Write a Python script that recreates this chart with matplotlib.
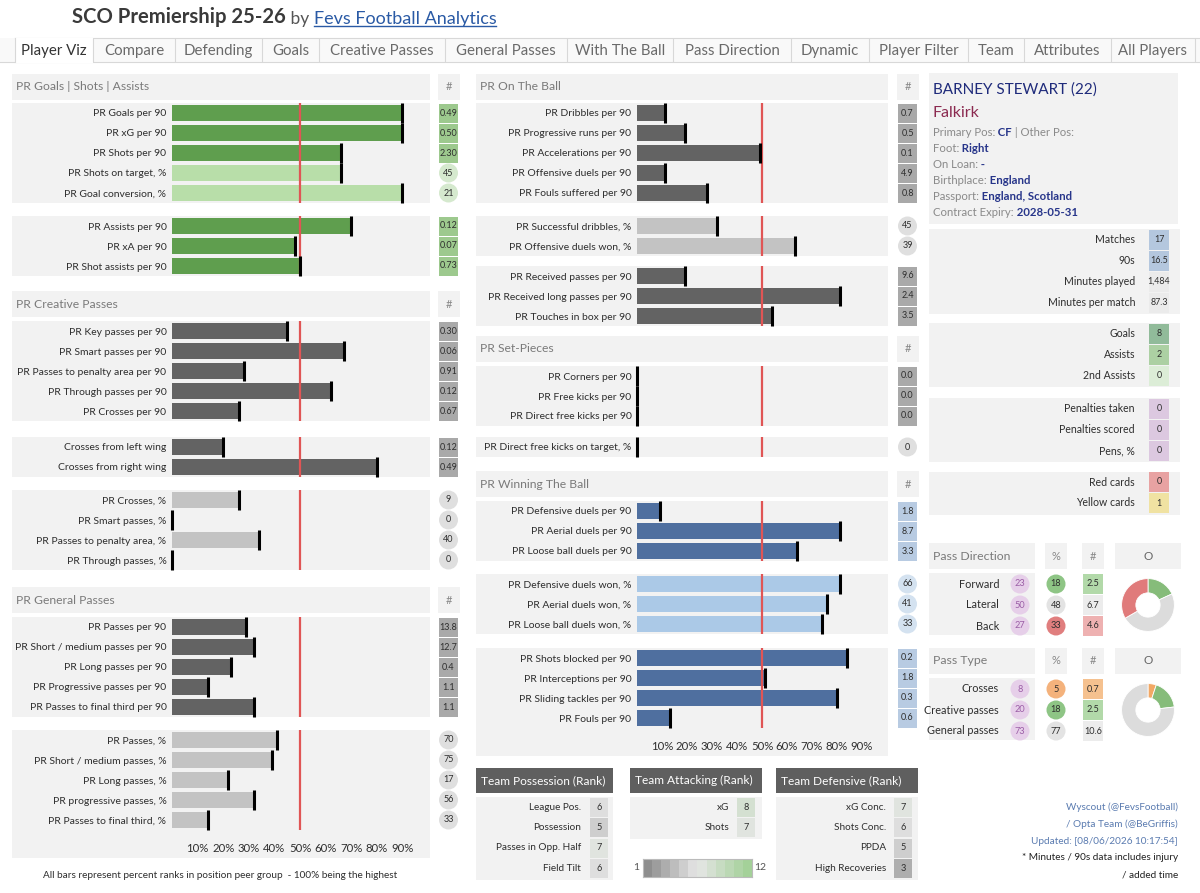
import numpy as np
import matplotlib
matplotlib.use("Agg")
import matplotlib.pyplot as plt
from matplotlib.patches import Rectangle, Circle
from matplotlib.colors import LinearSegmentedColormap

plt.rcParams['font.family'] = ['Lato', 'DejaVu Sans']

# ---------------- data ----------------
tab_names = ["Player Viz", "Compare", "Defending", "Goals", "Creative Passes", "General Passes",
             "With The Ball", "Pass Direction", "Dynamic", "Player Filter", "Team", "Attributes",
             "All Players"]

goals_labels = ["PR Goals per 90", "PR xG per 90", "PR Shots per 90", "PR Shots on target, %",
                "PR Goal conversion, %"]
goals_pr = [90, 90, 66, 66, 90]
goals_val = ["0.49", "0.50", "2.30", "45", "21"]

assist_labels = ["PR Assists per 90", "PR xA per 90", "PR Shot assists per 90"]
assist_pr = [70, 48, 50]
assist_val = ["0.12", "0.07", "0.73"]

creative_labels = ["PR Key passes per 90", "PR Smart passes per 90", "PR Passes to penalty area per 90",
                   "PR Through passes per 90", "PR Crosses per 90"]
creative_pr = [45, 67, 28, 62, 26]
creative_val = ["0.30", "0.06", "0.91", "0.12", "0.67"]

wing_labels = ["Crosses from left wing", "Crosses from right wing"]
wing_pr = [20, 80]
wing_val = ["0.12", "0.49"]

creative_pct_labels = ["PR Crosses, %", "PR Smart passes, %", "PR Passes to penalty area, %",
                       "PR Through passes, %"]
creative_pct_pr = [26, 0, 34, 0]
creative_pct_val = ["9", "0", "40", "0"]

general_labels = ["PR Passes per 90", "PR Short / medium passes per 90", "PR Long passes per 90",
                  "PR Progressive passes per 90", "PR Passes to final third per 90"]
general_pr = [29, 32, 23, 14, 32]
general_val = ["13.8", "12.7", "0.4", "1.1", "1.1"]

general_pct_labels = ["PR Passes, %", "PR Short / medium passes, %", "PR Long passes, %",
                      "PR progressive passes, %", "PR Passes to final third, %"]
general_pct_pr = [41, 39, 22, 32, 14]
general_pct_val = ["70", "75", "17", "56", "33"]

ball_labels = ["PR Dribbles per 90", "PR Progressive runs per 90", "PR Accelerations per 90",
               "PR Offensive duels per 90", "PR Fouls suffered per 90"]
ball_pr = [11, 19, 49, 11, 28]
ball_val = ["0.7", "0.5", "0.1", "4.9", "0.8"]

dribble_labels = ["PR Successful dribbles, %", "PR Offensive duels won, %"]
dribble_pr = [32, 63]
dribble_val = ["45", "39"]

receive_labels = ["PR Received passes per 90", "PR Received long passes per 90", "PR Touches in box per 90"]
receive_pr = [19, 81, 54]
receive_val = ["9.6", "2.4", "3.5"]

setpiece_labels = ["PR Corners per 90", "PR Free kicks per 90", "PR Direct free kicks per 90"]
setpiece_pr = [0, 0, 0]
setpiece_val = ["0.0", "0.0", "0.0"]

fk_labels = ["PR Direct free kicks on target, %"]
fk_pr = [0]
fk_val = ["0"]

duel_labels = ["PR Defensive duels per 90", "PR Aerial duels per 90", "PR Loose ball duels per 90"]
duel_pr = [9, 81, 64]
duel_val = ["1.8", "8.7", "3.3"]

duel_pct_labels = ["PR Defensive duels won, %", "PR Aerial duels won, %", "PR Loose ball duels won, %"]
duel_pct_pr = [81, 76, 74]
duel_pct_val = ["66", "41", "33"]

defend_labels = ["PR Shots blocked per 90", "PR Interceptions per 90", "PR Sliding tackles per 90",
                 "PR Fouls per 90"]
defend_pr = [84, 51, 80, 13]
defend_val = ["0.2", "1.8", "0.3", "0.6"]

player_name = "BARNEY STEWART (22)"
player_club = "Falkirk"
info_labels = ["Primary Pos:", "Foot:", "On Loan:", "Birthplace:", "Passport:", "Contract Expiry:"]
info_values = ["CF", "Right", "-", "England", "England, Scotland", "2028-05-31"]
info_extra = [" | Other Pos:", "", "", "", "", ""]

usage_labels = ["Matches", "90s", "Minutes played", "Minutes per match"]
usage_values = ["17", "16.5", "1,484", "87.3"]
output_labels = ["Goals", "Assists", "2nd Assists"]
output_values = ["8", "2", "0"]
pen_labels = ["Penalties taken", "Penalties scored", "Pens, %"]
pen_values = ["0", "0", "0"]
card_labels = ["Red cards", "Yellow cards"]
card_values = ["0", "1"]

dir_labels = ["Forward", "Lateral", "Back"]
dir_share = [23, 50, 27]
dir_pct = [18, 48, 33]
dir_count = [2.5, 6.7, 4.6]

type_labels = ["Crosses", "Creative passes", "General passes"]
type_share = [8, 20, 73]
type_pct = [5, 18, 77]
type_count = [0.7, 2.5, 10.6]

poss_labels = ["League Pos.", "Possession", "Passes in Opp. Half", "Field Tilt"]
poss_ranks = [6, 5, 7, 6]
att_labels = ["xG", "Shots"]
att_ranks = [8, 7]
def_labels = ["xG Conc.", "Shots Conc.", "PPDA", "High Recoveries"]
def_ranks = [7, 6, 5, 3]

credits = ["Wyscout (@FevsFootball)", "/ Opta Team (@BeGriffis)", "Updated: [08/06/2026 10:17:54]"]
notes = ["* Minutes / 90s data includes injury", "/ added time"]

# ---------------- styles ----------------
PANEL = '#f2f2f2'
RED = '#e05555'
TXT = '#2e2e2e'
GREEN = dict(bar='#5f9e4e', light='#b8dea9', box='#9dc98e', circ='#d5e9ce')
GRAY = dict(bar='#636363', light='#c3c3c3', box='#a9a9a9', circ='#dfdfdf')
BLUE = dict(bar='#4f6f9f', light='#abc9e7', box='#b8cbe2', circ='#d4e2f0')
LEFT = dict(x0=12, x1=430, bx0=172, bx1=428, vx=448.5)
MID = dict(x0=476, x1=888, bx0=637, bx1=887, vx=907.5)

W, H = 1200, 893
fig = plt.figure(figsize=(12, 8.93), dpi=100)
bg = fig.add_axes([0, 0, 1, 1])
bg.set_xlim(0, W)
bg.set_ylim(H, 0)
bg.axis('off')


def px_axes(x0, y0, x1, y1):
    return fig.add_axes([x0 / W, 1 - y1 / H, (x1 - x0) / W, (y1 - y0) / H])


def rect(x, y, w, h, color, **kw):
    bg.add_patch(Rectangle((x, y), w, h, facecolor=color, edgecolor='none', **kw))


def section(col, top, title):
    rect(col['x0'], top, col['x1'] - col['x0'], 26, PANEL)
    rect(col['vx'] - 11, top, 22, 26, PANEL)
    bg.text(col['x0'] + 4, top + 13, title, fontsize=8.7, color='#7a7a7a', va='center')
    bg.text(col['vx'], top + 13, '#', fontsize=8, color='#888888', va='center', ha='center')


def bar_group(col, top, labels, pr, vals, theme, ticks=False):
    n = len(labels)
    y1 = top + 20 * n
    rect(col['x0'], top, col['x1'] - col['x0'], y1 - top + (28 if ticks else 0), PANEL)
    ax = px_axes(col['bx0'], top, col['bx1'], y1)
    ax.set_facecolor('none')
    idx = np.arange(n)
    is_pct = ['%' in lab for lab in labels]
    colors = [theme['light'] if p else theme['bar'] for p in is_pct]
    ax.barh(idx, pr, height=0.78, color=colors, zorder=1)
    ax.axvline(50, color=RED, lw=1.6, zorder=2)
    ax.vlines(pr, idx - 0.5, idx + 0.5, color='black', lw=2.2, zorder=3, clip_on=False)
    ax.set_xlim(0, 100)
    ax.set_ylim(n - 0.5, -0.5)
    ax.set_yticks(idx, labels)
    ax.tick_params(axis='y', length=0, pad=4, labelsize=7.5, labelcolor=TXT)
    if ticks:
        tv = np.arange(10, 100, 10)
        ax.set_xticks(tv, [f"{t}%" for t in tv])
        ax.tick_params(axis='x', length=0, pad=9, labelsize=8.2, labelcolor=TXT)
    else:
        ax.set_xticks([])
    for s in ax.spines.values():
        s.set_visible(False)
    for i, (v, p) in enumerate(zip(vals, is_pct)):
        cy = top + 10 + 20 * i
        if p:
            bg.add_patch(Circle((col['vx'], cy), 9.5, facecolor=theme['circ'], edgecolor='none'))
        else:
            rect(col['vx'] - 9.5, cy - 9.5, 19, 19, theme['box'])
        bg.text(col['vx'], cy, v, fontsize=6.5, color=TXT, ha='center', va='center')


# ---------------- header ----------------
t1 = bg.text(72, 17, "SCO Premiership 25-26", fontsize=14.6, fontweight='bold', color='#3a3a3a',
             va='center')
t2 = bg.annotate(" by ", xy=(1, 0), xycoords=t1, va='bottom', fontsize=12.5, color='#555555')
t3 = bg.annotate("Fevs Football Analytics", xy=(1, 0), xycoords=t2, va='bottom', fontsize=13,
                 color='#2a5aa5')

# tabs
rect(0, 38, W, 24, '#f9f9f9')
bg.plot([15, W], [38, 38], color='#d8d8d8', lw=0.8)
bg.plot([0, W], [62, 62], color='#d8d8d8', lw=0.8)
tab_edges = [15, 93, 175, 262, 319, 445, 567, 673, 791, 869, 968, 1024, 1111, 1195]
rect(15, 38, 78, 25, 'white', zorder=2)
for i, name in enumerate(tab_names):
    a, b = tab_edges[i], tab_edges[i + 1]
    bg.plot([b, b], [39, 61], color='#d8d8d8', lw=0.8, zorder=3)
    bg.text((a + b) / 2, 51, name, fontsize=10.8, ha='center', va='center', zorder=3,
            color='#333333' if i == 0 else '#6a6a6a')
bg.plot([15, 15], [38, 62], color='#d8d8d8', lw=0.8, zorder=3)

# ---------------- left column ----------------
section(LEFT, 74, "PR Goals | Shots | Assists")
bar_group(LEFT, 103, goals_labels, goals_pr, goals_val, GREEN)
bar_group(LEFT, 216, assist_labels, assist_pr, assist_val, GREEN)
section(LEFT, 291, "PR Creative Passes")
bar_group(LEFT, 321, creative_labels, creative_pr, creative_val, GRAY)
bar_group(LEFT, 437, wing_labels, wing_pr, wing_val, GRAY)
bar_group(LEFT, 490, creative_pct_labels, creative_pct_pr, creative_pct_val, GRAY)
section(LEFT, 587, "PR General Passes")
bar_group(LEFT, 617, general_labels, general_pr, general_val, GRAY)
bar_group(LEFT, 730, general_pct_labels, general_pct_pr, general_pct_val, GRAY, ticks=True)
bg.text(220, 876, "All bars represent percent ranks in position peer group  - 100% being the highest",
        fontsize=7.2, color=TXT, ha='center', va='center')

# ---------------- middle column ----------------
section(MID, 74, "PR On The Ball")
bar_group(MID, 103, ball_labels, ball_pr, ball_val, GRAY)
bar_group(MID, 216, dribble_labels, dribble_pr, dribble_val, GRAY)
bar_group(MID, 266, receive_labels, receive_pr, receive_val, GRAY)
section(MID, 336, "PR Set-Pieces")
bar_group(MID, 366, setpiece_labels, setpiece_pr, setpiece_val, GRAY)
bar_group(MID, 437, fk_labels, fk_pr, fk_val, GRAY)
section(MID, 471, "PR Winning The Ball")
bar_group(MID, 501, duel_labels, duel_pr, duel_val, BLUE)
bar_group(MID, 574, duel_pct_labels, duel_pct_pr, duel_pct_val, BLUE)
bar_group(MID, 648, defend_labels, defend_pr, defend_val, BLUE, ticks=True)

# team rank boxes
rank_cmap = LinearSegmentedColormap.from_list('rank', ['#8e8e8e', '#e6e6e6', '#a4d199'])


def team_box(x0, x1, lab_x, box_x, title, labels, ranks):
    rect(x0, 768, x1 - x0, 25, '#5f5f5f')
    bg.text(x0 + 5, 780.5, title, fontsize=8.6, color='white', va='center')
    rect(x0, 797, x1 - x0, 20.5 * len(labels) + 1, PANEL)
    for i, (lab, r) in enumerate(zip(labels, ranks)):
        cy = 807 + 20.5 * i
        bg.text(lab_x, cy, lab, fontsize=7.2, color=TXT, ha='right', va='center')
        rect(box_x, cy - 9.5, 18, 19, rank_cmap((r - 1) / 11))
        bg.text(box_x + 9, cy, str(r), fontsize=6.6, color=TXT, ha='center', va='center')


team_box(476, 613, 581, 590, "Team Possession (Rank)", poss_labels, poss_ranks)
team_box(630, 762, 729, 737, "Team Attacking (Rank)", att_labels, att_ranks)
team_box(776, 918, 886, 894, "Team Defensive (Rank)", def_labels, def_ranks)
lax = px_axes(643, 859, 752, 877)
lax.imshow(np.arange(1, 13).reshape(1, -1), cmap=rank_cmap, vmin=1, vmax=12, aspect='auto')
lax.set_xticks([])
lax.set_yticks([])
for s in lax.spines.values():
    s.set_color('#bbbbbb')
bg.text(636, 868, "1", fontsize=7.5, color='#555555', ha='center', va='center')
bg.text(760, 868, "12", fontsize=7.5, color='#555555', ha='center', va='center')

# ---------------- right column ----------------
rect(929, 73, 249, 151, PANEL)
bg.text(933, 90, player_name, fontsize=11, color='#1f2b7b', va='center')
bg.text(933, 113, player_club, fontsize=11.5, color='#8b2a50', va='center')
for i, (lab, val, extra) in enumerate(zip(info_labels, info_values, info_extra)):
    a = bg.text(933, 132 + 16 * i, lab, fontsize=8.2, color='#8a8a8a', va='center')
    b = bg.annotate(" " + val, xy=(1, 0), xycoords=a, va='bottom', fontsize=8.2, color='#27358a',
                    fontweight='bold')
    if extra:
        bg.annotate(extra, xy=(1, 0), xycoords=b, va='bottom', fontsize=8.2, color='#8a8a8a')


def stat_block(top, labels, values, colors):
    rect(929, top, 251, 21 * len(labels) + 1, PANEL)
    for i, (lab, v, c) in enumerate(zip(labels, values, colors)):
        cy = top + 10.5 + 21 * i
        bg.text(1135, cy, lab, fontsize=7.6, color=TXT, ha='right', va='center')
        rect(1149, cy - 10, 20, 20, c)
        bg.text(1159, cy, v, fontsize=6.4, color=TXT, ha='center', va='center')


stat_block(229, usage_labels, usage_values, ['#b4c7de', '#b4c7de', '#ebebeb', '#ebebeb'])
stat_block(323, output_labels, output_values, ['#91bb9a', '#acd0a3', '#dcedd7'])
stat_block(398, pen_labels, pen_values, ['#dcc8e0'] * 3)
stat_block(471.5, card_labels, card_values, ['#e8a2a2', '#f0e2a2'])


def pass_block(top, title, labels, share, pct, count, pct_colors, box_colors, pie_colors):
    rect(929, top, 106, 26, PANEL)
    rect(1045, top, 22, 26, PANEL)
    rect(1082, top, 22, 26, PANEL)
    rect(1115, top, 66, 26, PANEL)
    bg.text(933, top + 13, title, fontsize=8.8, color='#7a7a7a', va='center')
    bg.text(1056, top + 13, '%', fontsize=8, color='#888888', ha='center', va='center')
    bg.text(1093, top + 13, '#', fontsize=8, color='#888888', ha='center', va='center')
    bg.text(1148, top + 13, 'O', fontsize=8.5, color='#666666', ha='center', va='center')
    rt = top + 30
    rect(929, rt, 106, 62, PANEL)
    for i in range(len(labels)):
        cy = rt + 11 + 21 * i
        bg.text(999, cy, labels[i], fontsize=7.8, color=TXT, ha='right', va='center')
        bg.add_patch(Circle((1020, cy), 9.5, facecolor='#e6cfe9', edgecolor='none'))
        bg.text(1020, cy, str(share[i]), fontsize=6.6, color='#9b5ea6', ha='center', va='center')
        bg.add_patch(Circle((1056, cy), 9.5, facecolor=pct_colors[i], edgecolor='none'))
        bg.text(1056, cy, str(pct[i]), fontsize=6.6, color=TXT, ha='center', va='center')
        rect(1083, cy - 10, 20, 20, box_colors[i])
        bg.text(1093, cy, f"{count[i]:.1f}", fontsize=6.6, color=TXT, ha='center', va='center')
    cy = rt + 32
    pax = px_axes(1148 - 33, cy - 33, 1148 + 33, cy + 33)
    pax.pie(count, colors=pie_colors, startangle=90, counterclock=False,
            wedgeprops=dict(width=0.54, edgecolor='white', linewidth=0.6))
    pax.set_aspect('equal')


pass_block(543, "Pass Direction", dir_labels, dir_share, dir_pct, dir_count,
           ['#8ec585', '#e3e3e3', '#e07e7e'], ['#b2d9a9', '#ececec', '#eeb1b1'],
           ['#86bc7a', '#dcdcdc', '#e07b7b'])
pass_block(648, "Pass Type", type_labels, type_share, type_pct, type_count,
           ['#f4b27c', '#8ec585', '#e3e3e3'], ['#f5c18f', '#b2d9a9', '#ececec'],
           ['#f2a865', '#86bc7a', '#dcdcdc'])

for i, line in enumerate(credits):
    bg.text(1178, 807 + 17 * i, line, fontsize=7.2, color='#5a7bb0', ha='right', va='center')
for i, line in enumerate(notes):
    bg.text(1178, 858 + 17 * i, line, fontsize=7.2, color='#222222', ha='right', va='center')

# underline the link in the title
fig.canvas.draw()
bb = t3.get_window_extent()
inv = bg.transData.inverted()
(ux0, uy0), (ux1, uy1) = inv.transform([[bb.x0, bb.y0], [bb.x1, bb.y1]])
bg.plot([ux0, ux1], [uy0 - 1, uy0 - 1], color='#2a5aa5', lw=1)

fig.savefig("out.png", dpi=100)
